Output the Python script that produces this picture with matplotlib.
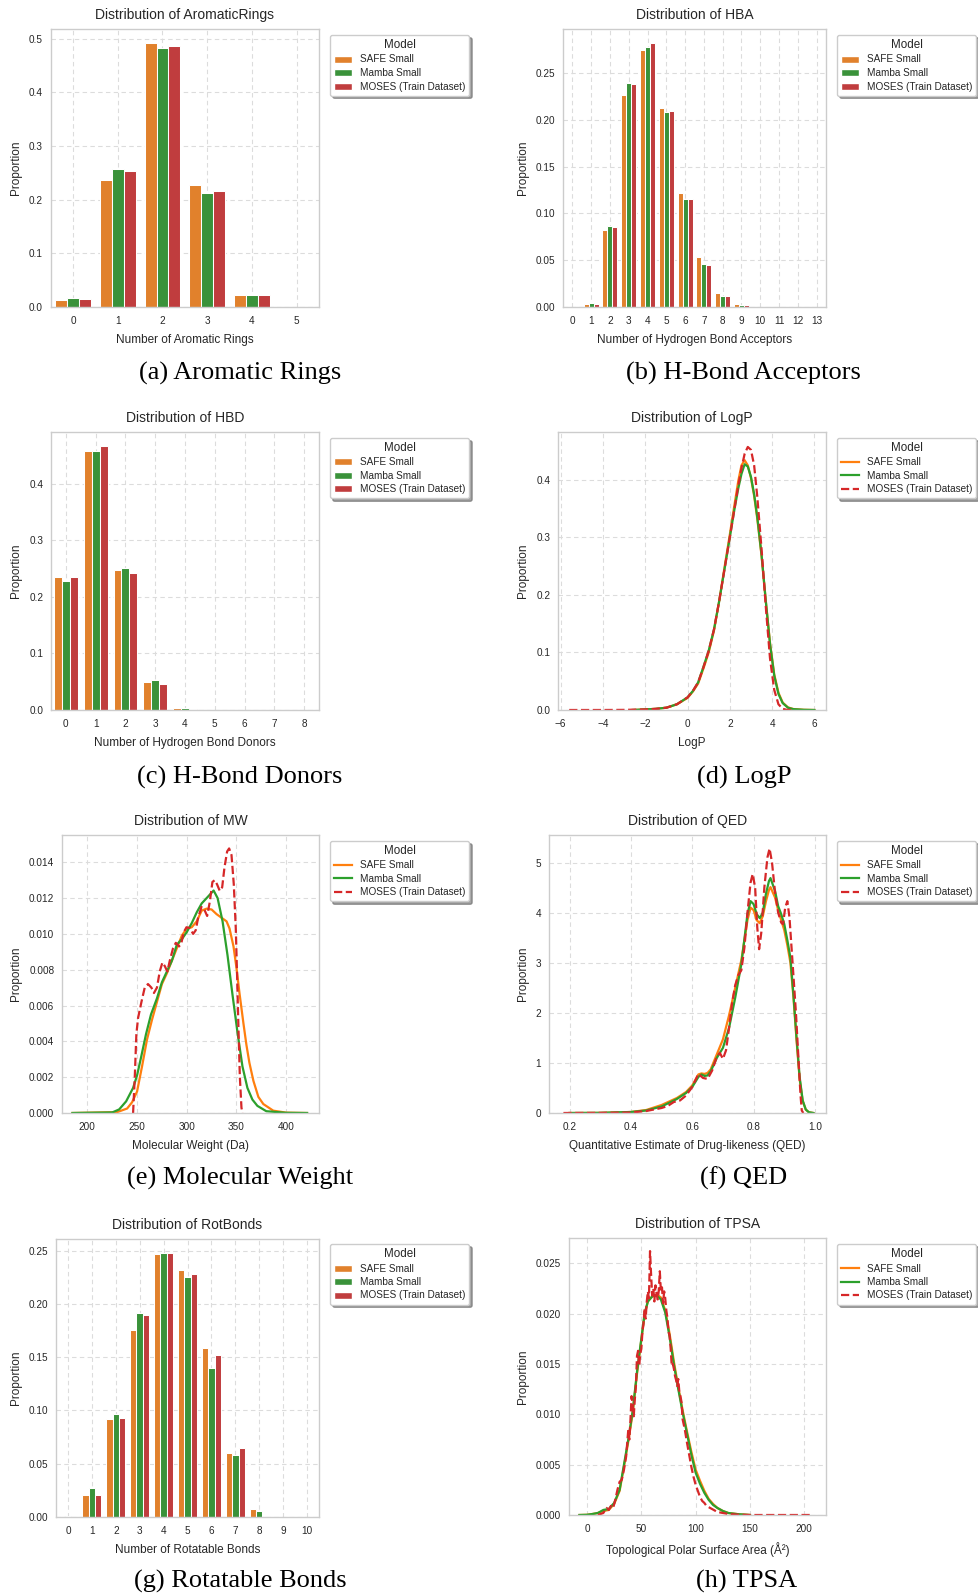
import numpy as np
import matplotlib
matplotlib.use("Agg")
import matplotlib.pyplot as plt
from matplotlib.patches import Patch
from matplotlib.lines import Line2D
from matplotlib.ticker import FixedLocator, FormatStrFormatter

plt.rcParams['font.family'] = ['Liberation Sans', 'DejaVu Sans']

# ---------------- data ----------------
series_names = ["SAFE Small", "Mamba Small", "MOSES (Train Dataset)"]

aro_cats = [0, 1, 2, 3, 4, 5]
aro_safe = [0.0137, 0.236, 0.4925, 0.228, 0.0218, 0.0003]
aro_mamba = [0.0174, 0.258, 0.4826, 0.212, 0.023, 0.0003]
aro_moses = [0.015, 0.253, 0.4863, 0.2155, 0.023, 0.0002]

hba_cats = list(range(14))
hba_safe = [0.0, 0.0032, 0.0824, 0.2268, 0.2743, 0.2122, 0.1213, 0.0535, 0.0153, 0.0036, 0.0004, 0.0001, 0.0, 0.0]
hba_mamba = [0.0, 0.0043, 0.087, 0.2393, 0.2775, 0.2086, 0.1155, 0.0456, 0.0121, 0.0025, 0.0003, 0.0001, 0.0, 0.0]
hba_moses = [0.0, 0.0032, 0.086, 0.2382, 0.2825, 0.2097, 0.1155, 0.0446, 0.0121, 0.0018, 0.0002, 0.0, 0.0, 0.0]

hbd_cats = list(range(9))
hbd_safe = [0.2346, 0.4585, 0.248, 0.0496, 0.0035, 0.0003, 0.0001, 0.0, 0.0]
hbd_mamba = [0.2287, 0.4579, 0.2517, 0.0532, 0.0035, 0.0003, 0.0, 0.0, 0.0]
hbd_moses = [0.2357, 0.468, 0.2422, 0.0467, 0.0018, 0.0001, 0.0, 0.0, 0.0]

rot_cats = list(range(11))
rot_safe = [0.0002, 0.021, 0.0923, 0.1752, 0.2466, 0.2318, 0.1586, 0.0598, 0.0075, 0.0, 0.0]
rot_mamba = [0.0013, 0.0272, 0.0967, 0.1918, 0.2481, 0.2253, 0.1399, 0.0582, 0.0056, 0.0, 0.0]
rot_moses = [0.0, 0.021, 0.0926, 0.1893, 0.2481, 0.2278, 0.1518, 0.0651, 0.0, 0.0, 0.0]

logp_x = [-2.6, -2.0, -1.5, -1.0, -0.5, 0.0, 0.25, 0.5, 0.75, 1.0, 1.25, 1.5, 1.75, 2.0, 2.2, 2.4,
          2.55, 2.7, 2.85, 3.0, 3.15, 3.3, 3.5, 3.7, 3.9, 4.1, 4.3, 4.5, 4.75, 5.0, 5.5, 6.0]
logp_safe = [0.0, 0.001, 0.002, 0.004, 0.01, 0.021, 0.032, 0.046, 0.072, 0.100, 0.138, 0.19, 0.248,
             0.305, 0.352, 0.398, 0.425, 0.434, 0.425, 0.403, 0.372, 0.332, 0.268, 0.19, 0.117,
             0.062, 0.03, 0.013, 0.0045, 0.0017, 0.0004, 0.0]
logp_mamba = [0.0, 0.001, 0.002, 0.004, 0.01, 0.022, 0.033, 0.048, 0.075, 0.103, 0.14, 0.19, 0.245,
              0.30, 0.345, 0.385, 0.41, 0.427, 0.423, 0.405, 0.375, 0.335, 0.27, 0.19, 0.115, 0.06,
              0.028, 0.012, 0.004, 0.0015, 0.0003, 0.0]
logp_moses_x = [-5.6, -4.0, -3.0, -2.0, -1.5, -1.0, -0.5, 0.0, 0.25, 0.5, 0.75, 1.0, 1.25, 1.5, 1.75,
                2.0, 2.2, 2.4, 2.55, 2.7, 2.85, 3.0, 3.15, 3.3, 3.5, 3.7, 3.9, 4.1, 4.3, 4.5, 4.7, 4.95]
logp_moses = [0.0, 0.0, 0.0002, 0.001, 0.002, 0.004, 0.01, 0.022, 0.033, 0.048, 0.074, 0.103, 0.14,
              0.19, 0.245, 0.30, 0.345, 0.39, 0.42, 0.445, 0.457, 0.452, 0.425, 0.37, 0.28, 0.18,
              0.09, 0.035, 0.01, 0.002, 0.0003, 0.0]

mw_safe_x = [185, 230, 240, 245, 250, 255, 260, 265, 270, 275, 280, 285, 290, 295, 300, 305, 310,
             315, 320, 325, 330, 335, 340, 343, 347, 350, 353, 357, 360, 363, 367, 372, 377, 387, 400, 421]
mw_safe = [0, 0.00005, 0.00025, 0.0006, 0.0012, 0.0026, 0.0041, 0.0052, 0.0062, 0.0072, 0.0078,
           0.0085, 0.0092, 0.0099, 0.0103, 0.01037, 0.0107, 0.0113, 0.01141, 0.01136, 0.0111,
           0.0109, 0.0107, 0.0103, 0.0093, 0.0081, 0.0067, 0.005, 0.0038, 0.0028, 0.0018, 0.0009,
           0.0005, 0.00013, 0.00002, 0]
mw_mamba_x = [185, 225, 232, 239, 246, 250, 254, 259, 264, 270, 275, 280, 285, 290, 295, 300, 305,
              310, 315, 320, 325, 327, 331, 336, 341, 346, 351, 356, 361, 366, 371, 380, 400, 421]
mw_mamba = [0, 0.00003, 0.0002, 0.00065, 0.0014, 0.0021, 0.0031, 0.0044, 0.0055, 0.0064, 0.0073,
            0.0079, 0.0085, 0.0094, 0.0097, 0.0101, 0.0106, 0.0112, 0.0117, 0.0120, 0.0123, 0.01242,
            0.0120, 0.0107, 0.0088, 0.0066, 0.0045, 0.0026, 0.0014, 0.00075, 0.0004, 0.0001, 0.00001, 0]
mw_moses_x = [246, 247.7, 249.3, 251, 254.4, 257.7, 261, 264.4, 267, 270, 272.8, 275.5, 277.9, 280.5,
              282.9, 286.2, 289, 292.3, 294.6, 297, 299.7, 303, 306.4, 309, 311.4, 314.8, 318.1,
              320.5, 323.2, 325.8, 328.2, 330.5, 333.2, 335.6, 337.9, 340.6, 342.6, 345, 347.3,
              349.3, 350.7, 352, 353.4, 355, 356]
mw_moses = [0, 0.002, 0.0044, 0.0053, 0.0062, 0.007, 0.0072, 0.007, 0.0067, 0.007, 0.0079, 0.0084,
            0.0082, 0.0079, 0.0085, 0.0092, 0.0095, 0.0093, 0.0095, 0.0101, 0.01037, 0.01033, 0.01,
            0.0102, 0.0109, 0.0115, 0.0113, 0.011, 0.0118, 0.0129, 0.013, 0.01276, 0.0124, 0.0126,
            0.0137, 0.0146, 0.01477, 0.0144, 0.01276, 0.0103, 0.0075, 0.0047, 0.002, 0.0003, 0]

qed_x = [0.2, 0.3, 0.4, 0.45, 0.5, 0.55, 0.58, 0.6, 0.62, 0.63, 0.64, 0.65, 0.66, 0.68, 0.70, 0.72,
         0.74, 0.76, 0.78, 0.79, 0.80, 0.81, 0.82, 0.83, 0.84, 0.85, 0.855, 0.87, 0.88, 0.89, 0.90,
         0.91, 0.92, 0.93, 0.94, 0.95, 0.96, 0.97, 0.98, 0.995]
qed_safe = [0, 0.003, 0.02, 0.06, 0.16, 0.3, 0.42, 0.55, 0.77, 0.79, 0.78, 0.8, 0.87, 1.17, 1.47,
            1.95, 2.5, 3.05, 3.85, 4.1, 4.05, 3.85, 3.79, 3.93, 4.22, 4.45, 4.51, 4.3, 4.05, 3.85,
            3.65, 3.35, 3.0, 2.3, 1.45, 0.68, 0.24, 0.07, 0.015, 0]
qed_mamba = [0, 0.003, 0.02, 0.05, 0.13, 0.28, 0.4, 0.52, 0.72, 0.77, 0.74, 0.75, 0.83, 1.1, 1.3,
             1.7, 2.3, 2.97, 3.97, 4.23, 4.17, 3.97, 3.89, 4.0, 4.37, 4.63, 4.69, 4.43, 4.13, 3.97,
             3.77, 3.45, 3.1, 2.35, 1.5, 0.72, 0.25, 0.07, 0.015, 0]
qed_moses_x = [0.18, 0.3, 0.4, 0.45, 0.5, 0.52, 0.54, 0.56, 0.58, 0.60, 0.62, 0.635, 0.65, 0.665,
               0.68, 0.69, 0.70, 0.71, 0.72, 0.73, 0.74, 0.75, 0.76, 0.77, 0.78, 0.79, 0.797, 0.805,
               0.812, 0.818, 0.825, 0.835, 0.845, 0.852, 0.86, 0.87, 0.88, 0.89, 0.896, 0.903, 0.91,
               0.917, 0.927, 0.938, 0.947, 0.953, 0.957, 0.962]
qed_moses = [0, 0.002, 0.01, 0.04, 0.1, 0.14, 0.22, 0.25, 0.35, 0.52, 0.78, 0.7, 0.68, 0.85, 1.12,
             1.2, 1.08, 1.25, 1.7, 2.2, 2.55, 2.75, 2.85, 3.3, 4.0, 4.6, 4.77, 4.5, 3.7, 3.27, 3.6,
             4.5, 5.1, 5.28, 5.0, 4.4, 4.0, 3.8, 3.77, 4.1, 4.23, 3.9, 3.0, 2.0, 1.0, 0.35, 0.05, 0]

tpsa_x = [-7, 0, 5, 10, 15, 20, 25, 30, 34, 38, 42, 46, 50, 53, 56, 60, 64, 68, 72, 76, 80, 84, 88,
          92, 96, 100, 104, 108, 112, 116, 120, 125, 130, 140, 150]
tpsa_safe = [0, 0.00002, 0.0001, 0.0002, 0.0004, 0.0005, 0.0011, 0.0024, 0.0048, 0.0073, 0.0101,
             0.014, 0.0174, 0.0199, 0.0212, 0.0217, 0.0219, 0.0216, 0.0203, 0.018, 0.0152, 0.0127,
             0.0104, 0.0083, 0.0063, 0.0045, 0.0034, 0.0024, 0.0016, 0.0011, 0.0007, 0.0004,
             0.0002, 0.00007, 0]
tpsa_mamba = [0, 0.00002, 0.0001, 0.0002, 0.0005, 0.0006, 0.0012, 0.0025, 0.005, 0.0075, 0.0103,
              0.0142, 0.0175, 0.02, 0.0212, 0.0217, 0.0218, 0.0214, 0.0201, 0.0177, 0.0149, 0.0125,
              0.0102, 0.0081, 0.006, 0.0042, 0.0031, 0.0022, 0.0015, 0.001, 0.0007, 0.0004,
              0.0002, 0.00007, 0]
tpsa_moses_x = [10, 15, 18, 20, 22, 24, 26, 28, 30, 32, 34, 36, 38, 39, 40, 41, 42, 43, 44, 45, 46,
                47, 48, 49, 50, 51, 52, 53, 54, 55, 56, 57, 58, 59, 60, 61, 62, 63, 64, 65, 66, 67,
                68, 69, 70, 71, 72, 73, 74, 75, 76, 77, 78, 79, 80, 81, 82, 83, 84, 85, 86, 87, 88,
                90, 92, 94, 96, 98, 100, 102, 104, 106, 108, 110, 115, 120, 130, 140, 150, 207]
tpsa_moses = [0.0, 0.0002, 0.0007, 0.0005, 0.0009, 0.0007, 0.0015, 0.0025, 0.0033, 0.0035, 0.0045,
              0.0058, 0.0085, 0.0075, 0.0095, 0.0118, 0.011, 0.0098, 0.0115, 0.0128, 0.0158,
              0.0163, 0.0148, 0.016, 0.0165, 0.0182, 0.019, 0.0205, 0.0195, 0.0212, 0.0222,
              0.0215, 0.0262, 0.0238, 0.0218, 0.0225, 0.0212, 0.0228, 0.022, 0.0214, 0.0222,
              0.0242, 0.0222, 0.0226, 0.021, 0.0222, 0.0215, 0.0203, 0.0196, 0.0182, 0.0178,
              0.0165, 0.0148, 0.015, 0.0145, 0.0138, 0.0134, 0.0128, 0.0135, 0.0122, 0.0118,
              0.0112, 0.0095, 0.0085, 0.0072, 0.006, 0.0048, 0.0038, 0.003, 0.0024, 0.0018,
              0.0014, 0.0012, 0.0009, 0.0006, 0.0003, 0.0001, 0.00003, 0.0, 0.0]

# ---------------- style ----------------
bar_colors = ["#e1812c", "#3a923a", "#c03d3e"]
line_colors = ["#ff7f0e", "#2ca02c", "#d62728"]
TXT = "#262626"
W, H = 979, 1595

fig = plt.figure(figsize=(W / 100, H / 100), dpi=100)


def make_ax(L, R, T, B):
    return fig.add_axes([L / W, 1 - B / H, (R - L) / W, (B - T) / H])


def style(ax, title, xlabel, xlim, ylim, yticks, yfmt, xticks, xticklabels=None):
    ax.set_facecolor("white")
    ax.set_xlim(*xlim)
    ax.set_ylim(*ylim)
    ax.xaxis.set_major_locator(FixedLocator(xticks))
    if xticklabels is not None:
        ax.set_xticklabels(xticklabels)
    ax.yaxis.set_major_locator(FixedLocator(yticks))
    ax.yaxis.set_major_formatter(FormatStrFormatter(yfmt))
    ax.grid(True, linestyle=(0, (4, 3)), color="#dcdcdc", linewidth=0.8)
    ax.set_axisbelow(True)
    for s in ax.spines.values():
        s.set_color("#cccccc")
        s.set_linewidth(1.0)
    ax.tick_params(axis="x", length=0, pad=6.5, labelsize=7.2, colors=TXT)
    ax.tick_params(axis="y", length=0, pad=5.5, labelsize=7.2, colors=TXT)
    ax.set_title(title, fontsize=10, color=TXT, pad=7)
    ax.set_xlabel(xlabel, fontsize=8.5, color=TXT, labelpad=5.5)
    ax.set_ylabel("Proportion", fontsize=8.5, color=TXT, labelpad=5)


def add_legend(ax, handles, x, y):
    leg = ax.legend(handles=handles, title="Model", loc="upper left",
                    bbox_to_anchor=(x / W, 1 - y / H), bbox_transform=fig.transFigure,
                    fontsize=7.2, title_fontsize=8.4, frameon=True, shadow=True,
                    handlelength=1.8, handletextpad=0.8, labelspacing=0.35,
                    borderpad=0.4, borderaxespad=0.0)
    leg.get_frame().set_edgecolor("#cccccc")
    leg.get_frame().set_facecolor("white")
    leg.get_frame().set_alpha(1.0)
    for t in leg.get_texts():
        t.set_color(TXT)
    leg.get_title().set_color(TXT)


def bar_panel(ax, cats, vals_list):
    pos = np.arange(len(cats))
    w = 0.8 / 3
    for i, (vals, c) in enumerate(zip(vals_list, bar_colors)):
        ax.bar(pos + (i - 1) * w, vals, width=w, color=c, edgecolor="white", linewidth=0.75)
    handles = [Patch(facecolor=c, edgecolor="white", label=n) for c, n in zip(bar_colors, series_names)]
    return handles


def line_panel(ax, xs_list, ys_list):
    styles = ["-", "-", "--"]
    for xs, ys, c, ls in zip(xs_list, ys_list, line_colors, styles):
        ax.plot(xs, ys, color=c, linestyle=ls, linewidth=1.6)
    handles = [Line2D([0], [0], color=c, linestyle=ls, linewidth=1.6, label=n)
               for c, ls, n in zip(line_colors, styles, series_names)]
    return handles


def caption(text, x, y):
    fig.text(x / W, 1 - y / H, text, ha="center", va="center", fontsize=19,
             family=["Liberation Serif", "DejaVu Serif"], color="black")


# (a) Aromatic rings
ax = make_ax(50.7, 319, 29, 307)
h = bar_panel(ax, aro_cats, [aro_safe, aro_mamba, aro_moses])
style(ax, "Distribution of AromaticRings", "Number of Aromatic Rings", (-0.5, 5.5), (0, 0.518),
      [0, 0.1, 0.2, 0.3, 0.4, 0.5], "%.1f", list(range(len(aro_cats))), [str(c) for c in aro_cats])
add_legend(ax, h, 330, 35)
caption("(a) Aromatic Rings", 240, 373)

# (b) HBA
ax = make_ax(563, 826, 29, 307)
h = bar_panel(ax, hba_cats, [hba_safe, hba_mamba, hba_moses])
style(ax, "Distribution of HBA", "Number of Hydrogen Bond Acceptors", (-0.5, 13.5), (0, 0.297),
      [0, 0.05, 0.10, 0.15, 0.20, 0.25], "%.2f", list(range(len(hba_cats))), [str(c) for c in hba_cats])
add_legend(ax, h, 837, 35)
caption("(b) H-Bond Acceptors", 743, 373)

# (c) HBD
ax = make_ax(51, 319, 432, 710)
h = bar_panel(ax, hbd_cats, [hbd_safe, hbd_mamba, hbd_moses])
style(ax, "Distribution of HBD", "Number of Hydrogen Bond Donors", (-0.5, 8.5), (0, 0.492),
      [0, 0.1, 0.2, 0.3, 0.4], "%.1f", list(range(len(hbd_cats))), [str(c) for c in hbd_cats])
add_legend(ax, h, 330, 438)
caption("(c) H-Bond Donors", 240, 777)

# (d) LogP
ax = make_ax(558, 826, 432, 710)
h = line_panel(ax, [logp_x, logp_x, logp_moses_x], [logp_safe, logp_mamba, logp_moses])
style(ax, "Distribution of LogP", "LogP", (-6.13, 6.55), (0, 0.483),
      [0, 0.1, 0.2, 0.3, 0.4], "%.1f", [-6, -4, -2, 0, 2, 4, 6])
add_legend(ax, h, 837, 438)
caption("(d) LogP", 744, 777)

# (e) MW
ax = make_ax(62, 319, 835, 1113)
h = line_panel(ax, [mw_safe_x, mw_mamba_x, mw_moses_x], [mw_safe, mw_mamba, mw_moses])
style(ax, "Distribution of MW", "Molecular Weight (Da)", (174.5, 433), (0, 0.01552),
      [0, 0.002, 0.004, 0.006, 0.008, 0.010, 0.012, 0.014], "%.3f", [200, 250, 300, 350, 400])
add_legend(ax, h, 330, 841)
caption("(e) Molecular Weight", 240, 1178)

# (f) QED
ax = make_ax(549, 826, 835, 1113)
h = line_panel(ax, [qed_x, qed_x, qed_moses_x], [qed_safe, qed_mamba, qed_moses])
style(ax, "Distribution of QED", "Quantitative Estimate of Drug-likeness (QED)", (0.133, 1.036),
      (0, 5.55), [0, 1, 2, 3, 4, 5], "%d", [0.2, 0.4, 0.6, 0.8, 1.0])
ax.xaxis.set_major_formatter(FormatStrFormatter("%.1f"))
add_legend(ax, h, 837, 841)
caption("(f) QED", 744, 1178)

# (g) RotBonds
ax = make_ax(56, 319, 1239, 1517)
h = bar_panel(ax, rot_cats, [rot_safe, rot_mamba, rot_moses])
style(ax, "Distribution of RotBonds", "Number of Rotatable Bonds", (-0.5, 10.5), (0, 0.261),
      [0, 0.05, 0.10, 0.15, 0.20, 0.25], "%.2f", list(range(len(rot_cats))), [str(c) for c in rot_cats])
add_legend(ax, h, 330, 1244)
caption("(g) Rotatable Bonds", 240, 1581)

# (h) TPSA
ax = make_ax(569, 826, 1238, 1515)
h = line_panel(ax, [tpsa_x, tpsa_x, tpsa_moses_x], [tpsa_safe, tpsa_mamba, tpsa_moses])
style(ax, "Distribution of TPSA", "Topological Polar Surface Area (Å²)", (-16.6, 220), (0, 0.0275),
      [0, 0.005, 0.010, 0.015, 0.020, 0.025], "%.3f", [0, 50, 100, 150, 200])
add_legend(ax, h, 837, 1244)
caption("(h) TPSA", 747, 1581)

fig.savefig("out.png", dpi=100, facecolor="white")
